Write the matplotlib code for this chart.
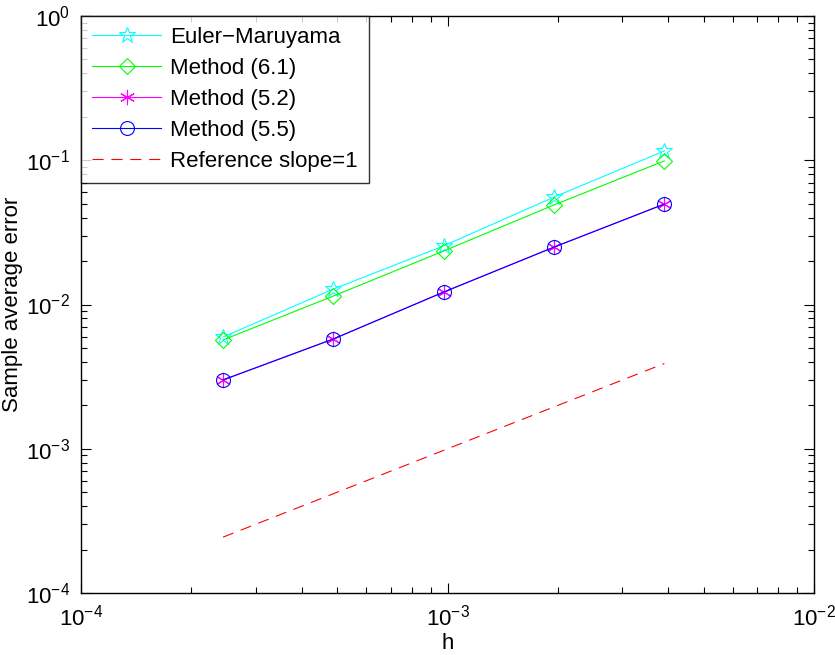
import matplotlib
matplotlib.use("Agg")
import matplotlib.pyplot as plt
from matplotlib.ticker import LogLocator, NullFormatter

plt.rcParams['font.family'] = ['Liberation Sans', 'DejaVu Sans']
plt.rcParams['mathtext.fontset'] = 'custom'
plt.rcParams['mathtext.rm'] = 'Liberation Sans'

h = [2**-12, 2**-11, 2**-10, 2**-9, 2**-8]
err_em = [0.00595, 0.0128, 0.0255, 0.0556, 0.116]
err_61 = [0.00568, 0.01145, 0.0235, 0.049, 0.099]
err_52 = [0.0030, 0.00577, 0.0122, 0.025, 0.0497]
err_55 = [0.0030, 0.00577, 0.0122, 0.025, 0.0497]
ref = [0.000244, 0.00390]
ref_h = [2**-12, 2**-8]

fig = plt.figure(figsize=(8.35, 6.55), dpi=100)
ax = fig.add_axes([81/835, 62/655, (814-81)/835, (593-16)/655])

lw = 0.8
ax.loglog(h, err_em, color=(0, 1, 1), lw=lw, marker='*', ms=12, mfc='none', mew=0.8, label='Euler\u2212Maruyama')
ax.loglog(h, err_61, color=(0, 1, 0), lw=lw, marker='D', ms=8.5, mfc='none', mew=0.8, label='Method (6.1)')
ax.loglog(h, err_52, color=(1, 0, 1), lw=lw, marker=(6, 2, 0), ms=11, mew=0.8, label='Method (5.2)')
ax.loglog(h, err_55, color=(0, 0, 1), lw=lw, marker='o', ms=10, mfc='none', mew=0.8, label='Method (5.5)')
ax.loglog(ref_h, ref, color=(1, 0, 0), lw=lw, ls=(0, (10, 7)), label='Reference slope=1')

ax.set_xlim(1e-4, 1e-2)
ax.set_ylim(1e-4, 1e0)
ax.xaxis.set_major_locator(LogLocator(base=10, numticks=10))
ax.yaxis.set_major_locator(LogLocator(base=10, numticks=10))
ax.xaxis.set_minor_locator(LogLocator(base=10, subs=range(2, 10), numticks=20))
ax.yaxis.set_minor_locator(LogLocator(base=10, subs=range(2, 10), numticks=20))
ax.xaxis.set_minor_formatter(NullFormatter())
ax.yaxis.set_minor_formatter(NullFormatter())
ax.tick_params(which='both', direction='in', top=True, right=True, labelsize=16, width=0.8)
ax.tick_params(which='major', length=7)
ax.tick_params(which='minor', length=4)
ax.tick_params(axis='x', pad=8)
ax.tick_params(axis='y', pad=8)
for s in ax.spines.values():
    s.set_linewidth(1.0)

ax.set_xlabel('h', fontsize=16, labelpad=2)
ax.set_ylabel('Sample average error', fontsize=16, labelpad=2)

leg = ax.legend(loc='upper left', borderaxespad=0, fontsize=16, frameon=True,
                fancybox=False, edgecolor='black', handlelength=3.1,
                labelspacing=0.45, borderpad=0.5, handletextpad=0.4)
leg.get_frame().set_linewidth(1.0)

fig.savefig('out.png', dpi=100)
